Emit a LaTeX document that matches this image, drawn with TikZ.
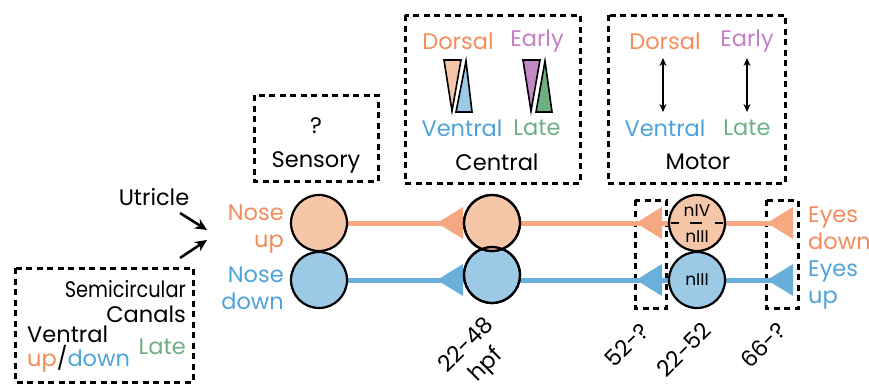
\documentclass[tikz,border=0pt]{standalone}
\usepackage{fontspec}
\setmainfont{Poppins}
\usetikzlibrary{arrows.meta,calc}
\definecolor{otext}{HTML}{F28C5B}
\definecolor{ofill}{HTML}{F6C6A8}
\definecolor{oline}{HTML}{F5A882}
\definecolor{btext}{HTML}{4DA3DA}
\definecolor{bfill}{HTML}{9CC9E5}
\definecolor{bline}{HTML}{6AAFD9}
\definecolor{ptext}{HTML}{C47FC4}
\definecolor{pfill}{HTML}{C389C4}
\definecolor{gtext}{HTML}{6DB083}
\definecolor{gfill}{HTML}{6DAF81}
\definecolor{overlapc}{HTML}{C9A39B}
\tikzset{
  dbox/.style={draw, line width=3, dash pattern=on 6 off 4.5},
  cell/.style={circle, draw, line width=2.2, minimum size=56, inner sep=0},
  lab/.style={font=\fontsize{22.5}{27}\selectfont, inner sep=0},
  small/.style={font=\fontsize{17}{20}\selectfont, inner sep=0},
  oconn/.style={draw=oline, line width=5},
  bconn/.style={draw=bline, line width=5},
  wedge/.style={draw, line width=1.6, line join=miter},
  darr/.style={{Stealth[length=8,width=7]}-{Stealth[length=8,width=7]}, line width=1.4},
  iarr/.style={-{Stealth[length=12,width=11]}, line width=2.6},
  diaglab/.style={lab, align=center, transform shape}
}
\newcommand{\otri}[1]{\fill[oline] (#1) -- ++(26,-16) -- ++(0,32) -- cycle;}
\newcommand{\btri}[1]{\fill[bline] (#1) -- ++(26,-16) -- ++(0,32) -- cycle;}
\begin{document}
\begin{tikzpicture}
\useasboundingbox (0,0) rectangle (869pt,-388pt);
\begin{scope}[x=1pt,y=-1pt]
% ---------- boxes ----------
\draw[dbox] (254,95) rectangle (378,181);
\node[lab] (q) at (316,126) {?};
\node[lab] (sens) at (316,162) {Sensory};

\draw[dbox] (405,15) rectangle (580,183);
\node[lab, text=otext] (cd) at (458,41) {Dorsal};
\node[lab, text=ptext] (ce) at (537,41) {Early};
\node[lab, text=btext] (cv) at (462,128) {Ventral};
\node[lab, text=gtext] (cl) at (537,128) {Late};
\node[lab] (cent) at (497,162) {Central};
\filldraw[wedge, fill=ofill] (444,60) -- (461,60) -- (452,111) -- cycle;
\filldraw[wedge, fill=bfill] (466,61) -- (472,112) -- (456,112) -- cycle;
\filldraw[wedge, fill=pfill] (523,60) -- (540,60) -- (531,111) -- cycle;
\filldraw[wedge, fill=gfill] (545,61) -- (552,112) -- (536,112) -- cycle;

\draw[dbox] (608,15) rectangle (785,183);
\node[lab, text=otext] (md) at (665,41) {Dorsal};
\node[lab, text=ptext] (me) at (747,41) {Early};
\node[lab, text=btext] (mv) at (665,128) {Ventral};
\node[lab, text=gtext] (ml) at (747,128) {Late};
\node[lab] (mot) at (698,162) {Motor};
\draw[darr] (663,58) -- (663,112);
\draw[darr] (747,58) -- (747,112);

\draw[dbox] (15,268) rectangle (193,382);
\node[lab, anchor=east] (semi) at (186,289) {\scalebox{0.86}[1]{Semicircular}};
\node[lab, anchor=east] (can) at (186,314) {Canals};
\node[lab, anchor=west] (vent) at (27,334) {Ventral};
\node[lab, anchor=west] (updown) at (27,359) {\textcolor{otext}{up}/\textcolor{btext}{down}};
\node[lab, anchor=east, text=gtext] (late) at (186,347) {Late};

% ---------- inputs ----------
\node[lab] (utr) at (154,197) {Utricle};
\draw[iarr] (180,213) -- (207,230);
\draw[iarr] (180,258) -- (207,240);

\node[lab, text=otext, anchor=east, align=right] (nu) at (284,229) {Nose\\up};
\node[lab, text=btext, anchor=east, align=right] (nd) at (284,288) {Nose\\down};

% ---------- side dashed boxes ----------
\draw[dbox] (635,200) rectangle (666,308);
\draw[dbox] (766,200) rectangle (798,308);

% ---------- cells ----------
\coordinate (oa) at (319,223);
\coordinate (ba) at (319,280);
\coordinate (ob) at (492,223);
\coordinate (bb) at (492,275);
\coordinate (om) at (697,223);
\coordinate (bm) at (697,280);
\coordinate (oe) at (790,223);
\coordinate (be) at (790,280);

% connectors
\draw[oconn] (oa) -- (ob);
\draw[oconn] (ob) -- (om);
\draw[oconn] (om) -- (oe);
\draw[bconn] (ba) -- (bb |- ba);
\draw[bconn] (bb |- ba) -- (bm);
\draw[bconn] (bm) -- (be);

% arrowheads
\coordinate (t1o) at (437,223);
\coordinate (t1b) at (437,280);
\coordinate (t2o) at (636,223);
\coordinate (t2b) at (636,280);
\coordinate (t3o) at (767,223);
\coordinate (t3b) at (767,280);
\otri{t1o}\btri{t1b}\otri{t2o}\btri{t2b}\otri{t3o}\btri{t3b}

\node[cell, fill=ofill] (c1o) at (oa) {};
\node[cell, fill=bfill] (c1b) at (ba) {};
\node[cell, fill=bfill] (c2b) at (bb) {};
\node[cell, fill=ofill] (c2o) at (ob) {};
\begin{scope}
  \clip (ob) circle (28);
  \fill[overlapc] (bb) circle (28);
\end{scope}
\draw[line width=2.2] (bb) circle (28);
\draw[line width=2.2] (ob) circle (28);

\node[cell, fill=ofill] (c3o) at (om) {};
\node[cell, fill=bfill] (c3b) at (bm) {};
\draw[line width=1.4] (671,223) -- (679,223);
\draw[line width=1.4] (690,223) -- (702,223);
\draw[line width=1.4] (715,223) -- (723,223);
\node[small] (n4) at (697,211) {nIV};
\node[small] (n3a) at (697,237) {nIII};
\node[small] (n3b) at (697,280) {nIII};

% ---------- outputs ----------
\node[lab, text=otext, anchor=west, align=left] (ed) at (808,228) {Eyes\\down};
\node[lab, text=btext, anchor=west, align=left] (eu) at (808,285) {Eyes\\up};
\end{scope}

% ---------- timing labels (rotated) ----------
\begin{scope}[shift={(477pt,-356pt)}, rotate=45]
\node[diaglab] (t1) at (0,0) {22-48\\hpf};
\end{scope}
\begin{scope}[shift={(627pt,-345pt)}, rotate=45]
\node[diaglab] (t2) at (0,0) {52-?};
\end{scope}
\begin{scope}[shift={(684pt,-350pt)}, rotate=45]
\node[diaglab] (t3) at (0,0) {22-52};
\end{scope}
\begin{scope}[shift={(763pt,-345pt)}, rotate=45]
\node[diaglab] (t4) at (0,0) {66-?};
\end{scope}
\end{tikzpicture}
\end{document}
